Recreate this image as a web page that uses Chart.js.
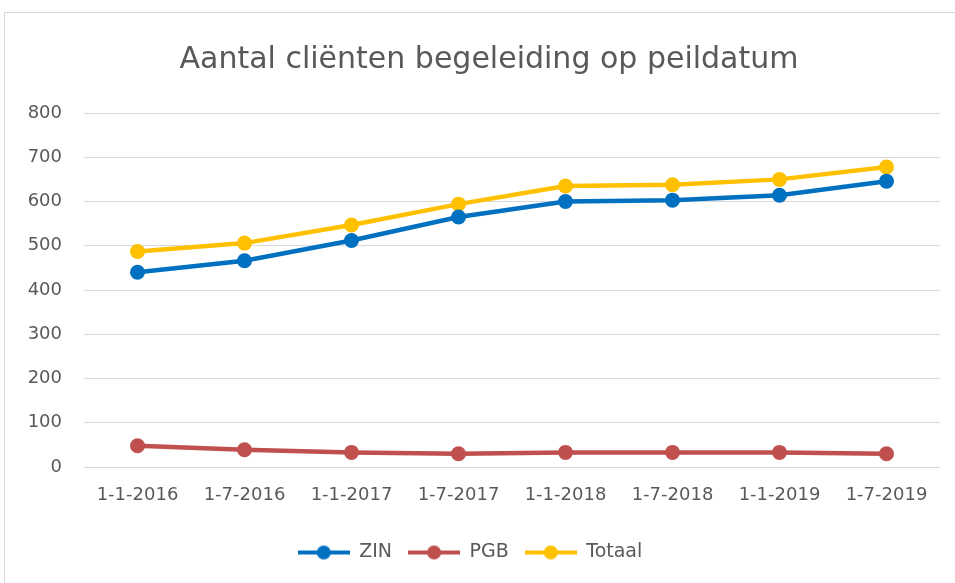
<!DOCTYPE html>
<html>
<head>
<meta charset="utf-8">
<script src="https://cdn.jsdelivr.net/npm/chart.js@4/dist/chart.umd.min.js"></script>
<style>
	html, body { margin: 0; padding: 0; background: #fff; }
	#frame { position: absolute; left: 4px; top: 12px; width: 960px; height: 580px; border: 1px solid #d9d9d9; box-sizing: border-box; }
	#wrap { position: absolute; left: 0; top: 0; width: 955px; height: 583px; }
</style>
</head>
<body>
<div id="frame"></div>
<div id="wrap"><canvas id="chart" width="955" height="583"></canvas></div>
<script>
// Peildata en aantallen
const dates = ["1-1-2016", "1-7-2016", "1-1-2017", "1-7-2017", "1-1-2018", "1-7-2018", "1-1-2019", "1-7-2019"];
const zin = [440, 466, 512, 565, 600, 603, 614, 646];
const pgb = [48, 39, 33, 30, 33, 33, 33, 30];
const totaal = [487, 506, 547, 594, 635, 638, 650, 678];
const yTicks = [0, 100, 200, 300, 400, 500, 600, 700, 800];

const fontFamily = "'DejaVu Sans', sans-serif";
const grey = "#595959";

// legend symbol: line with a dot in the middle
function legendIcon(color) {
	const c = document.createElement("canvas");
	c.width = 52;
	c.height = 16;
	const ctx = c.getContext("2d");
	ctx.strokeStyle = color;
	ctx.lineWidth = 4;
	ctx.beginPath();
	ctx.moveTo(0, 8);
	ctx.lineTo(52, 8);
	ctx.stroke();
	ctx.fillStyle = color;
	ctx.beginPath();
	ctx.arc(26, 8, 7, 0, Math.PI * 2);
	ctx.fill();
	return c;
}

const series = [
	{ label: "ZIN", data: zin, color: "#0070C0" },
	{ label: "PGB", data: pgb, color: "#C0504D" },
	{ label: "Totaal", data: totaal, color: "#FFC000" },
];

// title in the reference is centred a bit right of the canvas centre
const shiftTitle = {
	id: "shiftTitle",
	afterLayout(chart) {
		if (chart.titleBlock) {
			chart.titleBlock.left = 38;
			chart.titleBlock.right = 940;
		}
	},
};

new Chart(document.getElementById("chart"), {
	type: "line",
	plugins: [shiftTitle],
	data: {
		labels: dates,
		datasets: series.map(s => ({
			label: s.label,
			data: s.data,
			borderColor: s.color,
			backgroundColor: s.color,
			borderWidth: 4.5,
			pointStyle: "circle",
			pointRadius: 7.5,
			pointHoverRadius: 7.5,
			pointBorderWidth: 0,
			tension: 0,
		})),
	},
	options: {
		responsive: false,
		animation: false,
		layout: { padding: { left: 0, right: 15, top: 0, bottom: 11 } },
		plugins: {
			title: {
				display: true,
				text: "Aantal cliënten begeleiding op peildatum",
				color: grey,
				font: { family: fontFamily, size: 30, weight: "normal" },
				padding: { top: 42, bottom: 35 },
			},
			legend: {
				position: "bottom",
				labels: {
					usePointStyle: true,
					pointStyleWidth: 52,
					boxHeight: 16,
					color: grey,
					font: { family: fontFamily, size: 19 },
					padding: 16,
					generateLabels: chart =>
						chart.data.datasets.map((d, i) => ({
							text: d.label,
							fontColor: grey,
							pointStyle: legendIcon(d.borderColor),
							datasetIndex: i,
							hidden: false,
							lineWidth: 0,
						})),
				},
			},
			tooltip: { enabled: false },
		},
		scales: {
			x: {
				offset: true,
				grid: { display: false, offset: true },
				border: { display: false },
				ticks: { color: grey, font: { family: fontFamily, size: 18 }, padding: 10, maxRotation: 0 },
				afterFit: scale => { scale.height = 60; },
			},
			y: {
				min: 0,
				max: 800,
				afterBuildTicks: scale => { scale.ticks = yTicks.map(v => ({ value: v })); },
				grid: { color: "#d9d9d9", lineWidth: 1, drawTicks: false },
				border: { display: false },
				ticks: { color: grey, font: { family: fontFamily, size: 18 }, padding: 22 },
				afterFit: scale => { scale.width = 84; },
			},
		},
	},
});
</script>
</body>
</html>
